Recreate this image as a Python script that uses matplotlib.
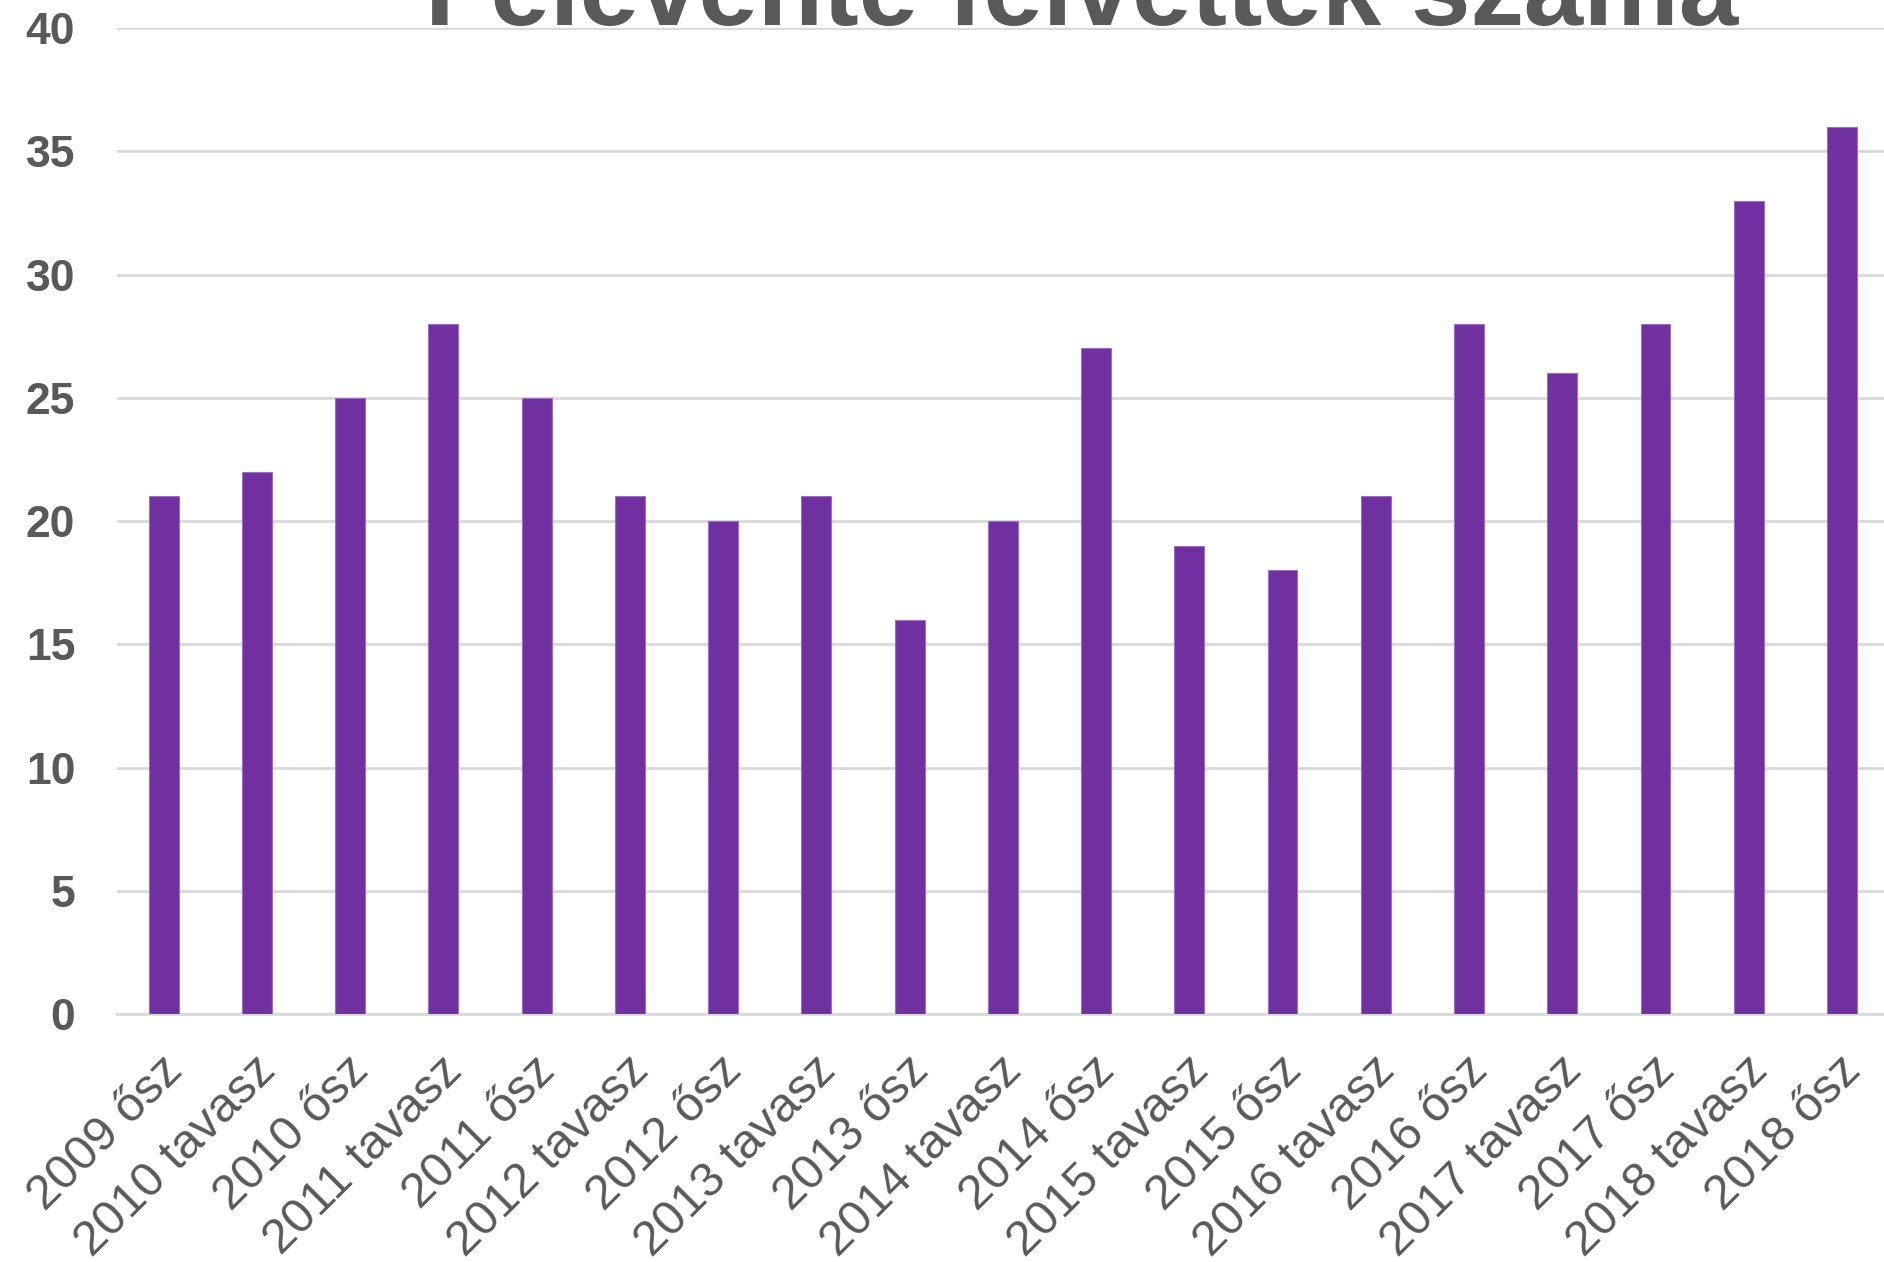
# Félévente felvettek száma - oszlopdiagram

import matplotlib
matplotlib.use("Agg")
import matplotlib.pyplot as plt
import matplotlib.transforms as mtransforms

# adatok
felevek = ["2009 ősz", "2010 tavasz", "2010 ősz", "2011 tavasz", "2011 ősz",
           "2012 tavasz", "2012 ősz", "2013 tavasz", "2013 ősz", "2014 tavasz",
           "2014 ősz", "2015 tavasz", "2015 ősz", "2016 tavasz", "2016 ősz",
           "2017 tavasz", "2017 ősz", "2018 tavasz", "2018 ősz"]
felvettek = [21, 22, 25, 28, 25, 21, 20, 21, 16, 20,
             27, 19, 18, 21, 28, 26, 28, 33, 36]
y_ticks = [0, 5, 10, 15, 20, 25, 30, 35, 40]

GREY = "#595959"
GRID = "#D9D9D9"
PURPLE = "#7030A0"

plt.rcParams["font.family"] = ["Liberation Sans", "DejaVu Sans"]

fig = plt.figure(figsize=(18.84, 12.62), dpi=100)
ax = fig.add_axes([0.0621, 0.1965, 0.9379, 0.7813])

x = range(len(felevek))
ax.bar(x, felvettek, width=0.32, color=PURPLE, edgecolor="#9B6FC0",
       linewidth=0.8, zorder=3)

ax.set_xlim(-0.5, 18.45)
ax.set_ylim(0, 40)
ax.set_yticks(y_ticks)
ax.set_yticklabels([str(v) for v in y_ticks], fontsize=32,
                   fontweight="bold", color=GREY)
ax.yaxis.grid(True, color=GRID, linewidth=2, zorder=0)
ax.tick_params(axis="y", length=0, pad=30)

ax.set_xticks(list(x))
ax.set_xticklabels(felevek, rotation=45, ha="right", va="center",
                   rotation_mode="anchor", fontsize=35, color=GREY)
ax.tick_params(axis="x", length=0, pad=36)
# a feliratok kicsit jobbra tolva, mint az eredetin
shift = mtransforms.ScaledTranslation(12 / 100, 0, fig.dpi_scale_trans)
for lbl in ax.get_xticklabels():
    lbl.set_transform(lbl.get_transform() + shift)

for side in ["top", "right", "left"]:
    ax.spines[side].set_visible(False)
ax.spines["bottom"].set_color(GRID)
ax.spines["bottom"].set_linewidth(2)

fig.text(0.574, 0.980, "Félévente felvettek száma", ha="center",
         va="baseline", fontsize=77, fontweight="bold", color=GREY)

fig.savefig("out.png", dpi=100)
